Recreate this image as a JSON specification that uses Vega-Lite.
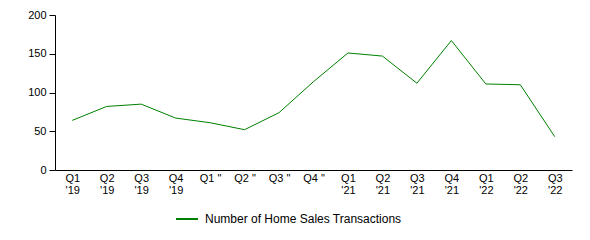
{
  "$schema": "https://vega.github.io/schema/vega-lite/v6.json",
  "width": 517,
  "height": 155,
  "autosize": "none",
  "padding": {"left": 55, "top": 15, "right": 18, "bottom": 70},
  "config": {
    "view": {"stroke": null},
    "font": "Liberation Sans",
    "axis": {"grid": false, "domainColor": "black", "labelColor": "black", "labelFontSize": 11, "labelFont": "Liberation Sans"}
  },
  "data": {
    "values": [
      {"quarter": "Q1|'19", "count": 64},
      {"quarter": "Q2|'19", "count": 82},
      {"quarter": "Q3|'19", "count": 85},
      {"quarter": "Q4|'19", "count": 67},
      {"quarter": "Q1 \"", "count": 61},
      {"quarter": "Q2 \"", "count": 52},
      {"quarter": "Q3 \"", "count": 74},
      {"quarter": "Q4 \"", "count": 114},
      {"quarter": "Q1|'21", "count": 151},
      {"quarter": "Q2|'21", "count": 147},
      {"quarter": "Q3|'21", "count": 112},
      {"quarter": "Q4|'21", "count": 167},
      {"quarter": "Q1|'22", "count": 111},
      {"quarter": "Q2|'22", "count": 110},
      {"quarter": "Q3|'22", "count": 43}
    ]
  },
  "mark": {"type": "line", "strokeWidth": 1},
  "encoding": {
    "x": {
      "field": "quarter",
      "type": "ordinal",
      "sort": null,
      "scale": {"type": "point", "padding": 0.5},
      "axis": {"title": null, "ticks": false, "labelAngle": 0, "labelPadding": 2, "labelLineHeight": 12, "labelExpr": "split(datum.value, '|')"}
    },
    "y": {
      "field": "count",
      "type": "quantitative",
      "scale": {"domain": [0, 200]},
      "axis": {"title": null, "values": [0, 50, 100, 150, 200], "tickColor": "black", "tickSize": 6, "labelPadding": 3}
    },
    "color": {
      "datum": "Number of Home Sales Transactions",
      "type": "nominal",
      "scale": {"range": ["green"]},
      "legend": {
        "title": null,
        "orient": "none",
        "legendX": 120,
        "legendY": 192,
        "symbolType": "stroke",
        "symbolSize": 484,
        "symbolStrokeWidth": 2,
        "labelFontSize": 12,
        "labelColor": "black",
        "labelFont": "Liberation Sans",
        "labelLimit": 0,
        "labelOffset": 6,
        "padding": 0
      }
    }
  }
}
